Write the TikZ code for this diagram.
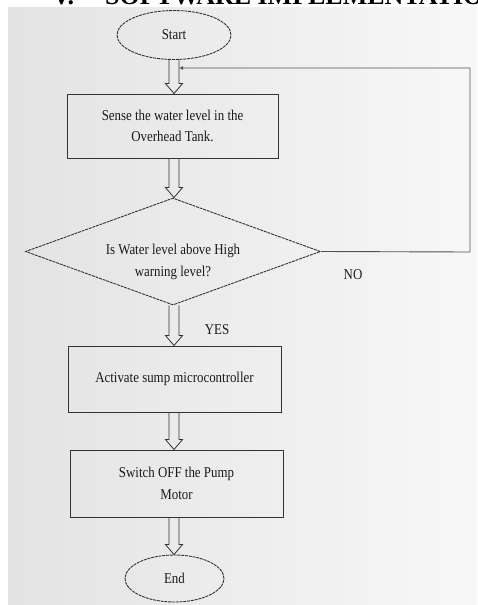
\documentclass[tikz,border=0pt]{standalone}
\usepackage{fontspec}
\setmainfont[FakeStretch=0.86]{Liberation Serif}
\newfontfamily\titlefont{Liberation Serif}
\usetikzlibrary{shapes.geometric,calc,arrows.meta}
\definecolor{ink}{HTML}{333333}
\definecolor{txt}{HTML}{1A1A1A}
\newcommand\holarrow[2]{%
  \draw[hollow] let \p1=(#1.south), \p2=(#2.north), \p3=(axis) in
    (\x3-5pt,\y1) -- (\x3-5pt,\y2+10pt) -- (\x3-8.5pt,\y2+10pt) -- (\x3,\y2)
    -- (\x3+8.5pt,\y2+10pt) -- (\x3+5pt,\y2+10pt) -- (\x3+5pt,\y1);}
\begin{document}
\begin{tikzpicture}[x=1pt,y=-1pt,
  every node/.style={text=txt,font=\fontsize{15}{21.5}\selectfont},
  term/.style={ellipse,draw=ink,line width=0.9pt,dash pattern=on 3pt off 0.8pt,inner sep=0pt},
  procbox/.style={rectangle,draw=ink,line width=0.9pt,inner sep=0pt,align=center},
  decision/.style={diamond,draw=ink,line width=0.9pt,dash pattern=on 3pt off 0.8pt,inner sep=0pt},
  hollow/.style={draw=ink,line width=0.8pt,line join=miter},
  conn/.style={draw=ink!85,line width=0.9pt},
  lbl/.style={inner sep=0pt}]
\useasboundingbox (0,0) rectangle (477,605);
\clip (0,0) rectangle (477,605);
\fill[left color=black!11, right color=black!3] (8,7) rectangle (477,605);
\node[lbl,anchor=base west,text=black,font=\titlefont\bfseries\fontsize{26}{26}\selectfont] (secnum) at (52,4.5) {V.};
\node[lbl,anchor=base west,text=black,font=\titlefont\bfseries\fontsize{26}{26}\selectfont] (title) at (105,4.5) {SOFTWARE IMPLEMENTATION};
\coordinate (axis) at (174,0);
\node[term,minimum width=114pt,minimum height=49pt] (start) at (174,35) {Start};
\node[procbox,minimum width=211pt,minimum height=64pt] (sense) at (172.5,126) {Sense the water level in the\\Overhead Tank.};
\node[decision,minimum width=295pt,minimum height=107pt] (dia) at (173,251.5) {};
\node[lbl,align=center] (q) at (173,262) {Is Water level above High\\warning level?};
\node[procbox,minimum width=213pt,minimum height=66pt] (act) at (174.5,379) {Activate sump microcontroller};
\node[procbox,minimum width=213pt,minimum height=67pt] (sw) at (176.5,483.5) {Switch OFF the Pump\\Motor};
\node[term,minimum width=99pt,minimum height=47pt] (stop) at (174.5,578.5) {End};
\node[lbl] (no) at (353,275) {NO};
\node[lbl] (yes) at (217,330) {YES};
\holarrow{start}{sense}
\holarrow{sense}{dia}
\holarrow{dia}{act}
\holarrow{act}{sw}
\holarrow{sw}{stop}
\coordinate (fb) at (179,68);
\coordinate (corner) at (470,252);
\draw[conn,-{Latex[length=4pt,width=4pt]}] (dia.east) -- (corner) |- (fb);
\end{tikzpicture}
\end{document}
